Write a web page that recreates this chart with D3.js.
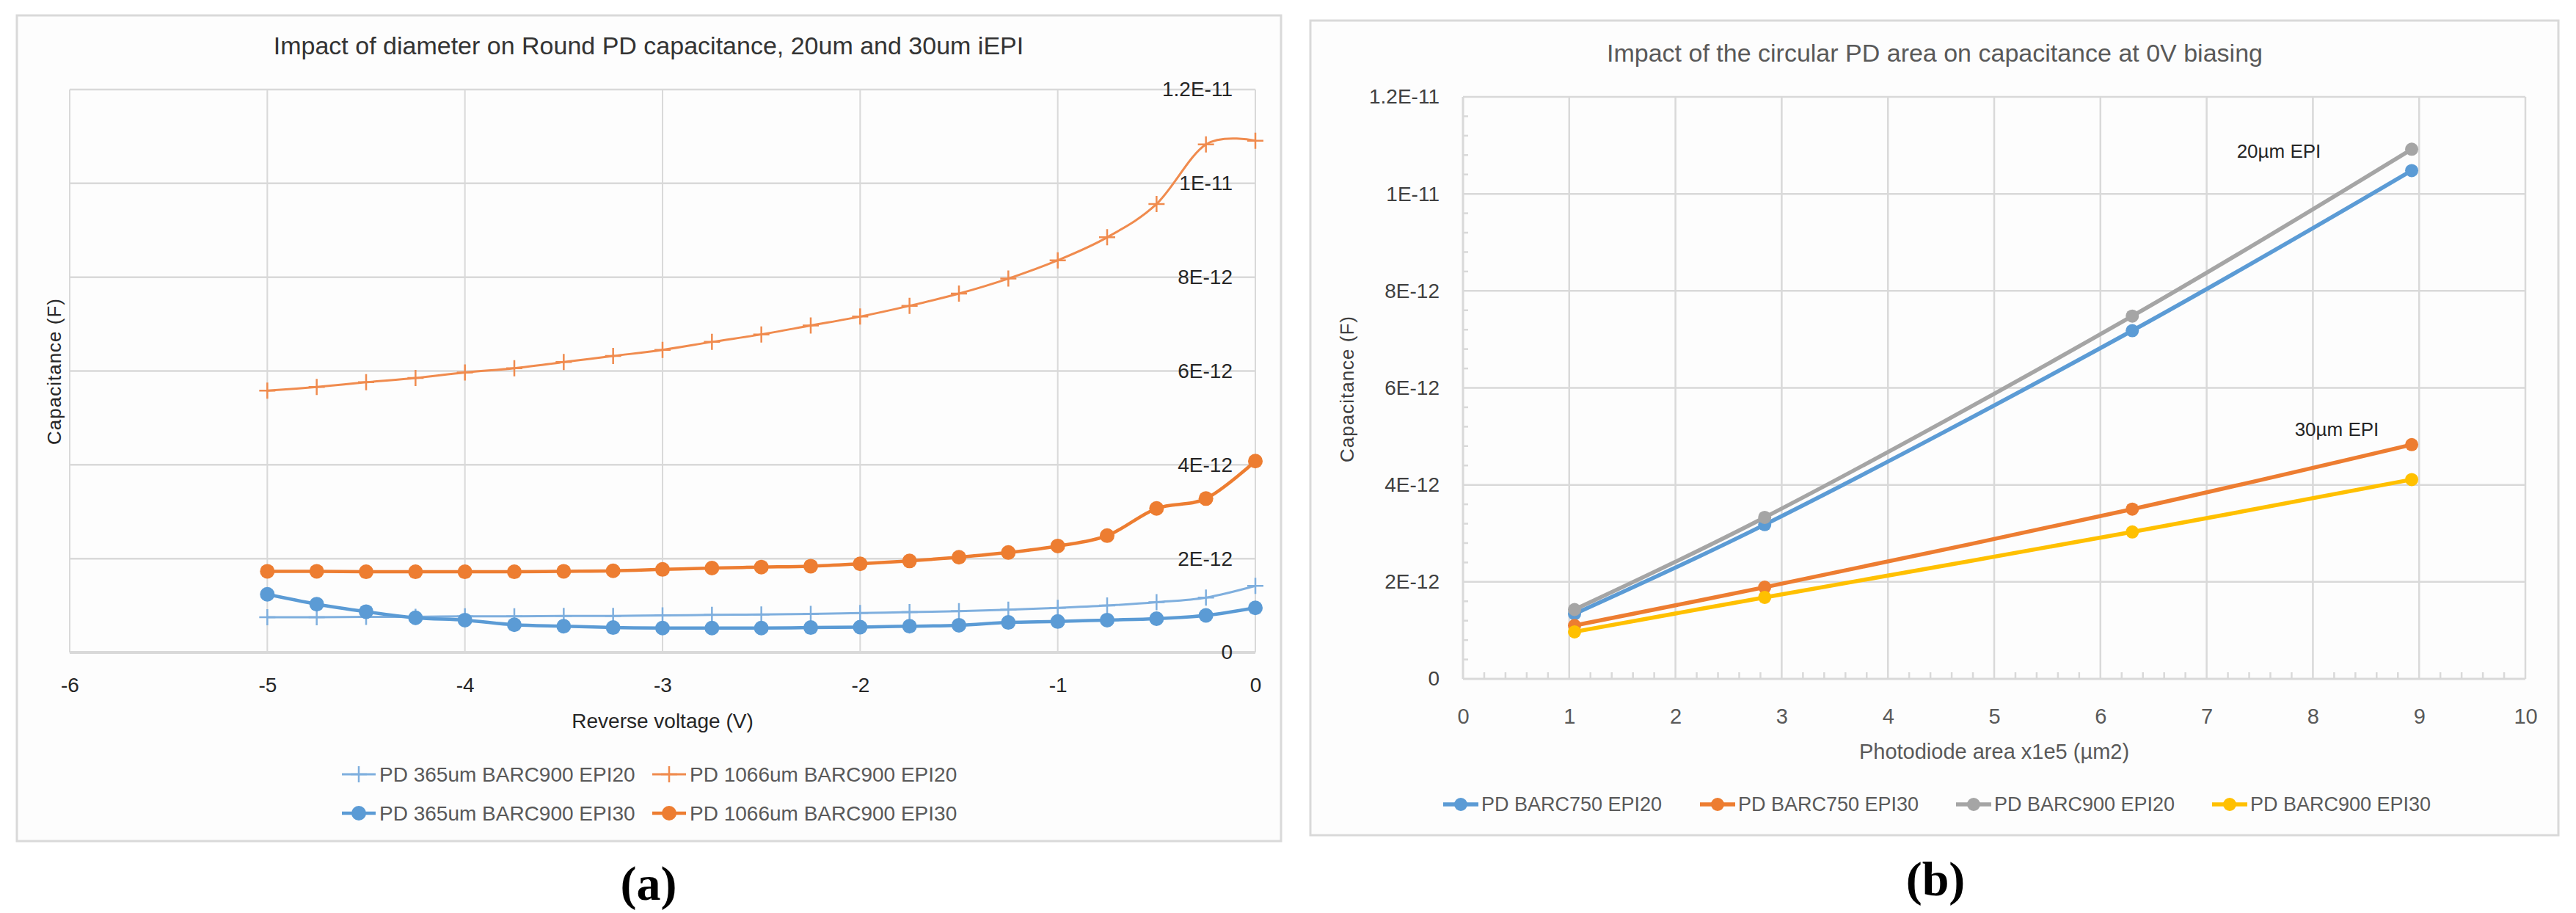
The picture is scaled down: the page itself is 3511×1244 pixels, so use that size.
<!DOCTYPE html>
<html>
<head>
<meta charset="utf-8">
<script src="https://cdn.jsdelivr.net/npm/d3@7"></script>
<style>
  body { margin: 0; background: #fff; }
  text { font-family: "Liberation Sans", Arial, sans-serif; }
  text.panel { font-family: "Liberation Serif", "Times New Roman", serif; font-weight: bold; }
</style>
</head>
<body>
<div id="fig"></div>
<script>
// ---- chart (a) data: capacitance in units of 1E-12 F vs reverse voltage
const voltage = [-5, -4.75, -4.5, -4.25, -4, -3.75, -3.5, -3.25, -3, -2.75, -2.5,
                 -2.25, -2, -1.75, -1.5, -1.25, -1, -0.75, -0.5, -0.25, 0];
const pd365_epi20  = [0.75, 0.75, 0.76, 0.76, 0.77, 0.77, 0.78, 0.78, 0.79, 0.80, 0.81,
                      0.82, 0.84, 0.86, 0.88, 0.91, 0.95, 1.00, 1.07, 1.17, 1.42];
const pd1066_epi20 = [5.58, 5.66, 5.76, 5.85, 5.97, 6.06, 6.19, 6.32, 6.45, 6.62, 6.78,
                      6.97, 7.16, 7.39, 7.65, 7.97, 8.36, 8.85, 9.56, 10.83, 10.91];
const pd365_epi30  = [1.24, 1.03, 0.87, 0.74, 0.69, 0.59, 0.56, 0.53, 0.52, 0.52, 0.52,
                      0.53, 0.54, 0.56, 0.58, 0.64, 0.66, 0.69, 0.72, 0.79, 0.95];
const pd1066_epi30 = [1.73, 1.73, 1.72, 1.72, 1.72, 1.72, 1.73, 1.74, 1.77, 1.80, 1.82,
                      1.84, 1.89, 1.95, 2.03, 2.13, 2.27, 2.49, 3.07, 3.28, 4.08];
const namesA = ["PD 365um BARC900 EPI20", "PD 1066um BARC900 EPI20",
                "PD 365um BARC900 EPI30", "PD 1066um BARC900 EPI30"];
const xTicksA = [-6, -5, -4, -3, -2, -1, 0];
const yTicks = [0, 2, 4, 6, 8, 10, 12];
const yTickLabels = ["0", "2E-12", "4E-12", "6E-12", "8E-12", "1E-11", "1.2E-11"];

// ---- chart (b) data: capacitance at 0V vs photodiode area (x1e5 um2)
const area = [1.05, 2.84, 6.30, 8.93];
const barc750_epi20 = [1.34, 3.18, 7.18, 10.48];
const barc750_epi30 = [1.10, 1.89, 3.50, 4.83];
const barc900_epi20 = [1.43, 3.33, 7.48, 10.92];
const barc900_epi30 = [0.97, 1.68, 3.03, 4.11];
const namesB = ["PD BARC750 EPI20", "PD BARC750 EPI30", "PD BARC900 EPI20", "PD BARC900 EPI30"];
const xTicksB = [0, 1, 2, 3, 4, 5, 6, 7, 8, 9, 10];

const BLUE = "#5B9BD5", ORANGE = "#ED7D31", GRAY = "#A5A5A5", YELLOW = "#FFC000";
const GRID = "#D9D9D9";

const svg = d3.select("#fig").append("svg")
    .attr("width", 3511)
    .attr("height", 1244);

svg.append("rect").attr("width", 3511).attr("height", 1244).attr("fill", "#fff");

const plusPath = "M-11,0H11M0,-11V11";

// ===================== chart (a) =====================
const A = svg.append("g");
A.append("rect").attr("x", 23).attr("y", 21).attr("width", 1723).attr("height", 1125)
    .attr("fill", "#fdfdfd").attr("stroke", GRID).attr("stroke-width", 3);

const xA = d3.scaleLinear().domain([-6, 0]).range([95, 1711]);
const yA = d3.scaleLinear().domain([0, 12]).range([889, 122]);

// gridlines
A.append("g").selectAll("line.v").data(xTicksA).enter().append("line")
    .attr("x1", d => xA(d)).attr("x2", d => xA(d))
    .attr("y1", yA(12)).attr("y2", yA(0))
    .attr("stroke", GRID).attr("stroke-width", 2);
A.append("g").selectAll("line.h").data(yTicks).enter().append("line")
    .attr("x1", xA(-6)).attr("x2", xA(0))
    .attr("y1", d => yA(d)).attr("y2", d => yA(d))
    .attr("stroke", GRID).attr("stroke-width", d => d === 0 ? 4 : 2.5);

// x axis labels (plain hyphen for negatives, like the original)
const xAxisA = A.append("g")
    .attr("transform", "translate(0," + yA(0) + ")")
    .call(d3.axisBottom(xA).tickValues(xTicksA).tickSize(0).tickPadding(34)
        .tickFormat(d => String(d)));
xAxisA.select(".domain").remove();
xAxisA.selectAll("text").attr("font-size", 28).attr("fill", "#262626");

// y axis sits at x = 0, labels to its left
const yAxisA = A.append("g")
    .attr("transform", "translate(" + xA(0) + ",0)")
    .call(d3.axisLeft(yA).tickValues(yTicks).tickSize(0).tickPadding(31)
        .tickFormat((d, i) => yTickLabels[i]));
yAxisA.select(".domain").remove();
yAxisA.selectAll("text").attr("font-size", 28).attr("fill", "#262626");

// titles
A.append("text").attr("x", 884).attr("y", 74).attr("text-anchor", "middle")
    .attr("font-size", 34).attr("fill", "#333")
    .text("Impact of diameter on Round PD capacitance, 20um and 30um iEPI");
A.append("text").attr("x", 903).attr("y", 992).attr("text-anchor", "middle")
    .attr("font-size", 28).attr("fill", "#262626")
    .text("Reverse voltage (V)");
A.append("text").attr("transform", "translate(74,506) rotate(-90)")
    .attr("text-anchor", "middle").attr("dominant-baseline", "central")
    .attr("font-size", 26).attr("letter-spacing", 1).attr("fill", "#262626")
    .text("Capacitance (F)");

const seriesA = [
  {name: namesA[0], values: pd365_epi20,  color: "#7FAFDE", marker: "plus",   width: 3},
  {name: namesA[1], values: pd1066_epi20, color: "#F08B4E", marker: "plus",   width: 3},
  {name: namesA[2], values: pd365_epi30,  color: BLUE,      marker: "circle", width: 4.5},
  {name: namesA[3], values: pd1066_epi30, color: ORANGE,    marker: "circle", width: 4.5}
];

const lineA = d3.line()
    .x(d => xA(d[0])).y(d => yA(d[1]))
    .curve(d3.curveCardinal.tension(0));

seriesA.forEach(s => {
  const pts = voltage.map((v, i) => [v, s.values[i]]);
  A.append("path").datum(pts)
      .attr("fill", "none").attr("stroke", s.color)
      .attr("stroke-width", s.width).attr("d", lineA);
  const m = A.append("g").selectAll("g").data(pts).enter().append("g")
      .attr("transform", d => "translate(" + xA(d[0]) + "," + yA(d[1]) + ")");
  if (s.marker === "plus") {
    m.append("path").attr("d", plusPath).attr("stroke", s.color).attr("stroke-width", 2.5);
  } else {
    m.append("circle").attr("r", 10).attr("fill", s.color);
  }
});

// legend (a)
const legA = [
  {s: seriesA[0], x: 466, y: 1055}, {s: seriesA[1], x: 889, y: 1055},
  {s: seriesA[2], x: 466, y: 1108}, {s: seriesA[3], x: 889, y: 1108}
];
legA.forEach(l => {
  const g = A.append("g").attr("transform", "translate(" + l.x + "," + l.y + ")");
  g.append("line").attr("x1", 0).attr("x2", 46).attr("stroke", l.s.color)
      .attr("stroke-width", l.s.width);
  if (l.s.marker === "plus") {
    g.append("path").attr("transform", "translate(23,0)").attr("d", plusPath)
        .attr("stroke", l.s.color).attr("stroke-width", 2.5);
  } else {
    g.append("circle").attr("cx", 23).attr("r", 10).attr("fill", l.s.color);
  }
  g.append("text").attr("x", 51).attr("dy", "0.35em").attr("font-size", 28)
      .attr("fill", "#595959").text(l.s.name);
});

svg.append("text").attr("class", "panel").attr("x", 884).attr("y", 1226)
    .attr("text-anchor", "middle").attr("font-size", 66).attr("fill", "#000")
    .text("(a)");

// ===================== chart (b) =====================
const B = svg.append("g");
B.append("rect").attr("x", 1786).attr("y", 28).attr("width", 1701).attr("height", 1110)
    .attr("fill", "#fdfdfd").attr("stroke", GRID).attr("stroke-width", 3);

const xB = d3.scaleLinear().domain([0, 10]).range([1994, 3442]);
const yB = d3.scaleLinear().domain([0, 12]).range([925, 132]);

B.append("g").selectAll("line").data(xTicksB).enter().append("line")
    .attr("x1", d => xB(d)).attr("x2", d => xB(d))
    .attr("y1", yB(12)).attr("y2", yB(0))
    .attr("stroke", GRID).attr("stroke-width", d => d === 0 ? 3 : 2.5);
B.append("g").selectAll("line").data(yTicks).enter().append("line")
    .attr("x1", xB(0)).attr("x2", xB(10))
    .attr("y1", d => yB(d)).attr("y2", d => yB(d))
    .attr("stroke", GRID).attr("stroke-width", d => d === 0 ? 3 : 2.5);

// minor ticks (inside)
const minorX = d3.range(0, 10.001, 0.2).filter(v => Math.abs(v - Math.round(v)) > 1e-6);
const minorY = d3.range(0, 12.001, 0.4).filter(v => Math.abs(v / 2 - Math.round(v / 2)) > 1e-6);
B.append("g").selectAll("line").data(minorX).enter().append("line")
    .attr("x1", d => xB(d)).attr("x2", d => xB(d))
    .attr("y1", yB(0)).attr("y2", yB(0) - 9)
    .attr("stroke", GRID).attr("stroke-width", 2.5);
B.append("g").selectAll("line").data(minorY).enter().append("line")
    .attr("x1", xB(0)).attr("x2", xB(0) + 7)
    .attr("y1", d => yB(d)).attr("y2", d => yB(d))
    .attr("stroke", GRID).attr("stroke-width", 2.5);

const xAxisB = B.append("g")
    .attr("transform", "translate(0," + yB(0) + ")")
    .call(d3.axisBottom(xB).tickValues(xTicksB).tickSize(0).tickPadding(40)
        .tickFormat(d => String(d)));
xAxisB.select(".domain").remove();
xAxisB.selectAll("text").attr("font-size", 29).attr("fill", "#595959");

const yAxisB = B.append("g")
    .attr("transform", "translate(" + xB(0) + ",0)")
    .call(d3.axisLeft(yB).tickValues(yTicks).tickSize(0).tickPadding(32)
        .tickFormat((d, i) => yTickLabels[i]));
yAxisB.select(".domain").remove();
yAxisB.selectAll("text").attr("font-size", 28).attr("fill", "#404040");

B.append("text").attr("x", 2637).attr("y", 84).attr("text-anchor", "middle")
    .attr("font-size", 34).attr("fill", "#595959")
    .text("Impact of the circular PD area on capacitance at 0V biasing");
B.append("text").attr("x", 2718).attr("y", 1034).attr("text-anchor", "middle")
    .attr("font-size", 29).attr("fill", "#595959")
    .text("Photodiode area x1e5 (µm2)");
B.append("text").attr("transform", "translate(1836,530) rotate(-90)")
    .attr("text-anchor", "middle").attr("dominant-baseline", "central")
    .attr("font-size", 26).attr("letter-spacing", 1).attr("fill", "#404040")
    .text("Capacitance (F)");

const seriesB = [
  {name: namesB[0], values: barc750_epi20, color: BLUE},
  {name: namesB[1], values: barc750_epi30, color: ORANGE},
  {name: namesB[2], values: barc900_epi20, color: GRAY},
  {name: namesB[3], values: barc900_epi30, color: YELLOW}
];

const lineB = d3.line()
    .x(d => xB(d[0])).y(d => yB(d[1]))
    .curve(d3.curveCatmullRom.alpha(0.5));

seriesB.forEach(s => {
  const pts = area.map((a, i) => [a, s.values[i]]);
  B.append("path").datum(pts)
      .attr("fill", "none").attr("stroke", s.color)
      .attr("stroke-width", 5.5).attr("d", lineB);
  B.append("g").selectAll("circle").data(pts).enter().append("circle")
      .attr("cx", d => xB(d[0])).attr("cy", d => yB(d[1]))
      .attr("r", 9).attr("fill", s.color);
});

B.append("text").attr("x", 3106).attr("y", 206).attr("text-anchor", "middle")
    .attr("dominant-baseline", "central").attr("font-size", 26).attr("fill", "#262626")
    .text("20µm EPI");
B.append("text").attr("x", 3185).attr("y", 585).attr("text-anchor", "middle")
    .attr("dominant-baseline", "central").attr("font-size", 26).attr("fill", "#262626")
    .text("30µm EPI");

const legBx = [1967, 2317, 2666, 3015];
seriesB.forEach((s, i) => {
  const g = B.append("g").attr("transform", "translate(" + legBx[i] + ",1096)");
  g.append("line").attr("x1", 0).attr("x2", 48).attr("stroke", s.color).attr("stroke-width", 5.5);
  g.append("circle").attr("cx", 24).attr("r", 9).attr("fill", s.color);
  g.append("text").attr("x", 52).attr("dy", "0.35em").attr("font-size", 27)
      .attr("fill", "#595959").text(s.name);
});

svg.append("text").attr("class", "panel").attr("x", 2638).attr("y", 1220)
    .attr("text-anchor", "middle").attr("font-size", 66).attr("fill", "#000")
    .text("(b)");
</script>
</body>
</html>
